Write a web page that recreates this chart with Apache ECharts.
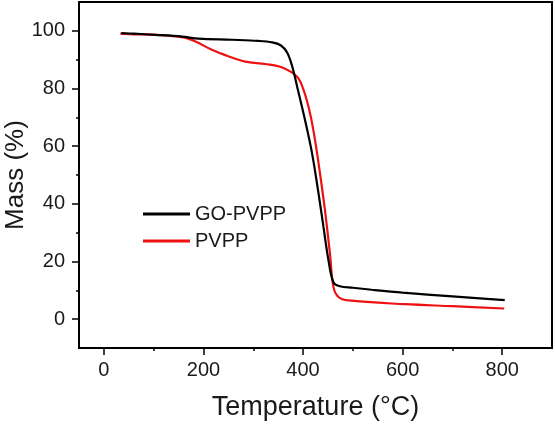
<!DOCTYPE html>
<html>
<head>
<meta charset="utf-8">
<script src="https://cdn.jsdelivr.net/npm/echarts@6/dist/echarts.min.js"></script>
<style>
html,body{margin:0;padding:0;background:#fff;}
#c{width:555px;height:424px;}
</style>
</head>
<body>
<div id="c"></div>
<script>
const seriesNames = ['GO-PVPP', 'PVPP'];
const goTemp = [35, 60, 104, 157, 190, 257, 311, 338, 355, 368, 378, 389, 404, 418, 431, 441, 451, 461, 474, 500, 538, 600, 700, 805];
const goMass = [99.2, 99.0, 98.6, 98.0, 97.3, 96.9, 96.5, 96.0, 95.0, 92.5, 87.8, 80.0, 69.0, 57.6, 43.7, 32.0, 20.5, 12.8, 11.4, 10.9, 10.2, 9.2, 7.9, 6.6];
const pvppTemp = [33, 60, 104, 157, 184, 217, 251, 284, 324, 357, 388, 401, 414, 424, 434, 444, 454, 461, 471, 491, 605, 700, 804];
const pvppMass = [99.0, 98.8, 98.6, 97.8, 96.3, 93.4, 91.1, 89.3, 88.5, 87.4, 84.1, 79.5, 71.4, 62.2, 50.6, 37.8, 22.8, 11.2, 7.7, 6.5, 5.2, 4.5, 3.7];
const xMajorTicks = [0, 200, 400, 600, 800];
const xMinorTicks = [100, 300, 500, 700];
const yMajorTicks = [0, 20, 40, 60, 80, 100];
const yMinorTicks = [10, 30, 50, 70, 90];

const font = 'Liberation Sans, Arial, sans-serif';
const chart = echarts.init(document.getElementById('c'));
const pair = (xs, ys) => xs.map((x, i) => [x, ys[i]]);

chart.setOption({
  animation: false,
  grid: {left: 79, top: 2, right: 3, bottom: 76, show: true, borderColor: '#000', borderWidth: 2, outerBoundsMode: 'none', containLabel: false},
  legend: {
    orient: 'vertical', left: 138, top: 199, itemWidth: 47, itemHeight: 3, itemGap: 7,
    textStyle: {fontFamily: font, fontSize: 20, color: '#1a1a1a'},
    data: [{name: seriesNames[0], icon: 'rect'}, {name: seriesNames[1], icon: 'rect'}]
  },
  xAxis: [{
    type: 'value', min: -50, max: 900,
    name: 'Temperature (°C)', nameLocation: 'middle', nameGap: 46,
    nameTextStyle: {fontFamily: font, fontSize: 27, color: '#1a1a1a'},
    axisLine: {show: true, onZero: false, lineStyle: {color: '#000', width: 2}},
    axisTick: {show: true, customValues: xMajorTicks, length: 7, lineStyle: {color: '#000', width: 1.5}},
    axisLabel: {customValues: xMajorTicks, margin: 12, fontFamily: font, fontSize: 20, color: '#1a1a1a'},
    splitLine: {show: false}
  }, {
    type: 'value', min: -50, max: 900, position: 'bottom',
    axisLine: {show: false, onZero: false},
    axisTick: {show: true, customValues: xMinorTicks, length: 3, lineStyle: {color: '#000', width: 1.5}},
    axisLabel: {show: false},
    splitLine: {show: false}
  }],
  yAxis: [{
    type: 'value', min: -10, max: 110,
    name: 'Mass (%)', nameLocation: 'middle', nameGap: 50, nameMoveOverlap: false,
    nameTextStyle: {fontFamily: font, fontSize: 26, color: '#1a1a1a'},
    axisLine: {show: true, onZero: false, lineStyle: {color: '#000', width: 2}},
    axisTick: {show: true, customValues: yMajorTicks, length: 7, lineStyle: {color: '#000', width: 1.5}},
    axisLabel: {customValues: yMajorTicks, margin: 14, fontFamily: font, fontSize: 20, color: '#1a1a1a'},
    splitLine: {show: false}
  }, {
    type: 'value', min: -10, max: 110, position: 'left',
    axisLine: {show: false, onZero: false},
    axisTick: {show: true, customValues: yMinorTicks, length: 3, lineStyle: {color: '#000', width: 1.5}},
    axisLabel: {show: false},
    splitLine: {show: false}
  }],
  series: [{
    name: seriesNames[0], type: 'line', data: pair(goTemp, goMass),
    showSymbol: false, symbol: 'none', smooth: 0.35,
    lineStyle: {color: '#000', width: 2.2}, itemStyle: {color: '#000'}, z: 3
  }, {
    name: seriesNames[1], type: 'line', data: pair(pvppTemp, pvppMass),
    showSymbol: false, symbol: 'none', smooth: 0.35,
    lineStyle: {color: '#ee1111', width: 2.2}, itemStyle: {color: '#ee1111'}, z: 2
  }]
});
</script>
</body>
</html>
